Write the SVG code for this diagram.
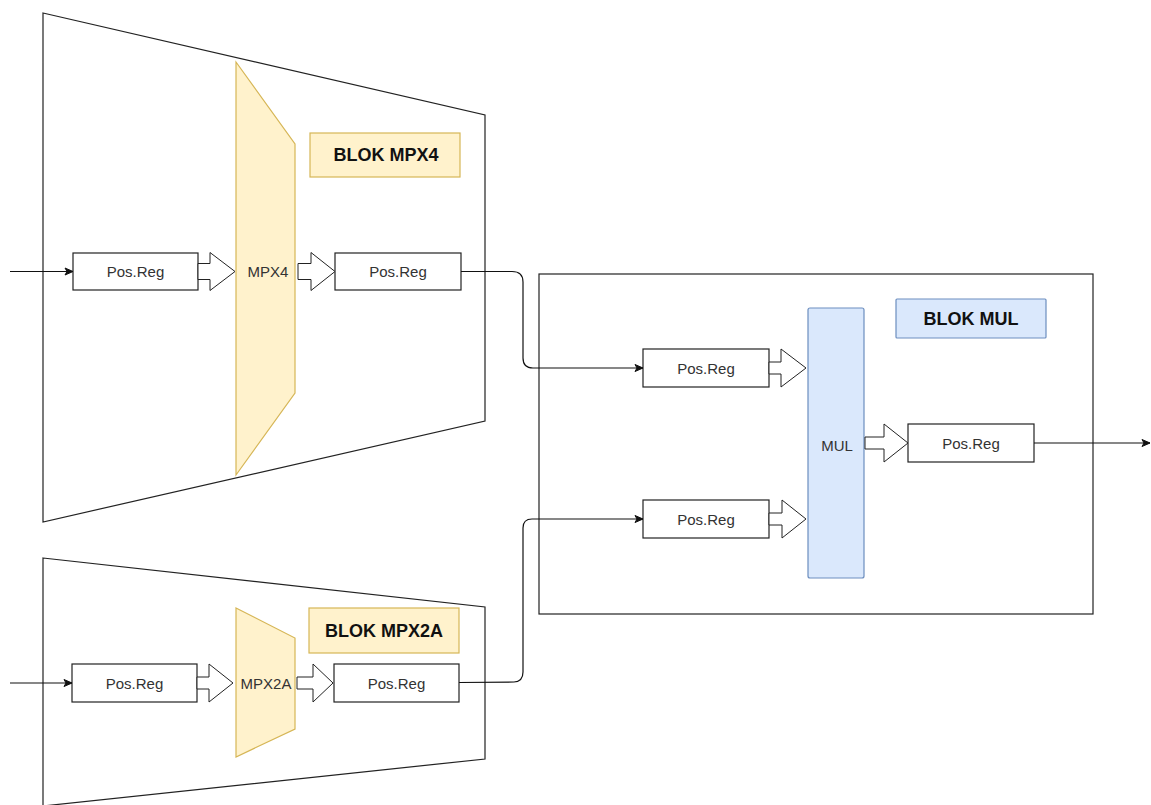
<svg xmlns="http://www.w3.org/2000/svg" width="1151" height="805" viewBox="0 0 1151 805">
<style>
.frame{fill:#fff;stroke:#222;stroke-width:1.2}
.yel{fill:#fff2cc;stroke:#d6b656;stroke-width:1.2}
.blu{fill:#dae8fc;stroke:#6c8ebf;stroke-width:1.2}
.reg{fill:#fff;stroke:#222;stroke-width:1.2}
.barr{fill:#fff;stroke:#222;stroke-width:1}
.t{font-family:"Liberation Sans",Arial,sans-serif;font-size:15px;fill:#333;text-anchor:middle;dominant-baseline:central}
.tb{font-family:"Liberation Sans",Arial,sans-serif;font-size:18px;font-weight:bold;fill:#111;text-anchor:middle;dominant-baseline:central}
.wire{fill:none;stroke:#111;stroke-width:1.2}
</style>
<defs>
<marker id="ah" markerWidth="10" markerHeight="10" refX="9" refY="5" orient="auto" markerUnits="userSpaceOnUse">
<path d="M1,1.5 L9,5 L1,8.5 L3,5 Z" fill="#111" stroke="#111" stroke-width="1"/>
</marker>
</defs>
<rect width="1151" height="805" fill="#fff"/>

<g id="block-mpx4">
<polygon class="frame" points="43,13 485,115 485,421 43,522"/>
</g>
<g id="block-mpx2a">
<polygon class="frame" points="43,558 485,607 485,759 43,806"/>
</g>
<g id="block-mul">
<rect class="frame" x="539" y="274" width="554" height="340"/>
</g>

<g id="mpx4">
<polygon class="yel" points="236,62 295,144 295,393 236,475"/>
<text class="t" x="268" y="271">MPX4</text>
</g>
<g id="label-mpx4">
<rect class="yel" x="310" y="133" width="150" height="44"/>
<text class="tb" x="386" y="155">BLOK MPX4</text>
</g>
<g id="reg1">
<rect class="reg" x="73" y="253" width="125" height="37"/>
<text class="t" x="135.5" y="271.5">Pos.Reg</text>
</g>
<g id="reg2">
<rect class="reg" x="335" y="253" width="126" height="37"/>
<text class="t" x="398" y="271.5">Pos.Reg</text>
</g>

<g id="mpx2a">
<polygon class="yel" points="236,608 295,638 295,729 236,757"/>
<text class="t" x="266" y="683">MPX2A</text>
</g>
<g id="label-mpx2a">
<rect class="yel" x="309" y="608" width="150" height="45"/>
<text class="tb" x="384" y="631">BLOK MPX2A</text>
</g>
<g id="reg3">
<rect class="reg" x="72" y="664" width="125" height="38"/>
<text class="t" x="134.5" y="683">Pos.Reg</text>
</g>
<g id="reg4">
<rect class="reg" x="334" y="664" width="125" height="38"/>
<text class="t" x="396.5" y="683">Pos.Reg</text>
</g>

<g id="mul">
<rect class="blu" x="808" y="308" width="56" height="270" rx="2"/>
<text class="t" x="837" y="445">MUL</text>
</g>
<g id="label-mul">
<rect class="blu" x="896" y="299" width="150" height="39" rx="1"/>
<text class="tb" x="971" y="319">BLOK MUL</text>
</g>
<g id="reg5">
<rect class="reg" x="643" y="349" width="126" height="38"/>
<text class="t" x="706" y="368">Pos.Reg</text>
</g>
<g id="reg6">
<rect class="reg" x="643" y="500" width="126" height="38"/>
<text class="t" x="706" y="519">Pos.Reg</text>
</g>
<g id="reg7">
<rect class="reg" x="908" y="424" width="126" height="38"/>
<text class="t" x="971" y="443">Pos.Reg</text>
</g>

<g id="connectors">
<polygon class="barr" points="198,263.5 210,263.5 210,252.5 235,271.5 210,290.5 210,279.5 198,279.5"/>
<polygon class="barr" points="298,263.5 311,263.5 311,252.5 335,271.5 311,290.5 311,279.5 298,279.5"/>
<polygon class="barr" points="197,677 209,677 209,664 233,683 209,702 209,689 197,689"/>
<polygon class="barr" points="297,677 313,677 313,664 333,683 313,702 313,689 297,689"/>
<polygon class="barr" points="769,362 781,362 781,349 806,368 781,387 781,374 769,374"/>
<polygon class="barr" points="769,513 782,513 782,500 806,519 782,538 782,525 769,525"/>
<polygon class="barr" points="865,437 884,437 884,424 908,443 884,462 884,449 865,449"/>
<path class="wire" d="M10,271.5 L73,271.5" marker-end="url(#ah)"/>
<path class="wire" d="M10,683 L72,683" marker-end="url(#ah)"/>
<path class="wire" d="M461,271.5 L512,271.5 Q523,271.5 523,282 L523,358 Q523,368 533,368 L643,368" marker-end="url(#ah)"/>
<path class="wire" d="M459,682.5 L514,682 Q523,681.5 523,672 L523,528 Q523,519 532,519 L643,519" marker-end="url(#ah)"/>
<path class="wire" d="M1034,443 L1150,443" marker-end="url(#ah)"/>
</g>
</svg>
